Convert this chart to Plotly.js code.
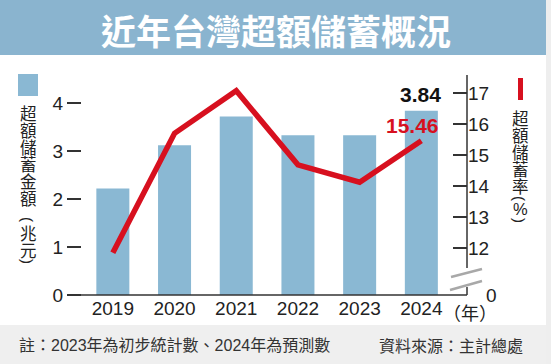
<!DOCTYPE html>
<html>
<head>
<meta charset="utf-8">
<script src="https://cdn.plot.ly/plotly-3.0.1.min.js"></script>
<style>html,body{margin:0;padding:0;background:#fff;}#chart{width:551px;height:364px;}</style>
</head>
<body>
<div id="chart"></div>
<script>
// ---- data ----
const years = ['2019', '2020', '2021', '2022', '2023', '2024'];
const savings = [2.22, 3.12, 3.72, 3.33, 3.33, 3.84];        // 超額儲蓄金額（兆元）
const rate = [11.84, 15.70, 17.07, 14.68, 14.12, 15.46];      // 超額儲蓄率（%）
const leftTicks = [0, 1, 2, 3, 4];
const rightTicks = [12, 13, 14, 15, 16, 17];
const titleText = '近年台灣超額儲蓄概況';
const leftLegendChars = ['超', '額', '儲', '蓄', '金', '額', '(', '兆', '元', ')'];
const rightLegendChars = ['超', '額', '儲', '蓄', '率', '(', '%', ')'];
const yearUnit = '（年）';
const noteText = '註：2023年為初步統計數、2024年為預測數';
const sourceText = '資料來源：主計總處';

// ---- layout geometry ----
const W = 551, H = 364;
const L = 82, R = 467, T = 75, B = 295;
const px = x => (x - L) / (R - L);
const py = y => (B - y) / (B - T);

const BAR = '#8ab8d3';
const RED = '#d7101f';
const INK = '#222222';
const NUMFONT = 'Liberation Sans, Arial, Noto Sans CJK TC, sans-serif';
const CJK = 'Noto Sans CJK TC, Noto Sans CJK SC, sans-serif';

const traces = [
  {
    type: 'bar', x: years, y: savings, width: 0.535,
    marker: {color: BAR}, hoverinfo: 'skip'
  },
  {
    type: 'scatter', mode: 'lines', x: years, y: rate, yaxis: 'y2',
    line: {color: RED, width: 5.5, shape: 'linear'}, hoverinfo: 'skip'
  }
];

const shapes = [
  {type: 'rect', xref: 'paper', yref: 'paper', x0: px(0), x1: px(546), y0: py(0), y1: py(55), fillcolor: '#8ab4cf', line: {width: 0}, layer: 'below'},
  {type: 'rect', xref: 'paper', yref: 'paper', x0: px(0), x1: px(551), y0: py(325), y1: py(364), fillcolor: '#efefef', line: {width: 0}, layer: 'below'},
  {type: 'rect', xref: 'paper', yref: 'paper', x0: px(546), x1: px(551), y0: py(0), y1: py(364), fillcolor: '#eeeeee', line: {width: 0}, layer: 'below'},
  {type: 'line', xref: 'paper', yref: 'paper', x0: px(68), x1: px(467), y0: 0, y1: 0, line: {color: '#333', width: 1.5}},
  {type: 'line', xref: 'paper', yref: 'paper', x0: 1, x1: 1, y0: py(268), y1: py(75), line: {color: '#333', width: 1.5}},
  {type: 'line', xref: 'paper', yref: 'paper', x0: 1, x1: 1, y0: 0, y1: py(287), line: {color: '#333', width: 1.5}},
  {type: 'line', xref: 'paper', yref: 'paper', x0: px(451), x1: px(482), y0: py(277), y1: py(269), line: {color: '#a8a8a8', width: 2.5}},
  {type: 'line', xref: 'paper', yref: 'paper', x0: px(450), x1: px(482), y0: py(290), y1: py(281), line: {color: '#a8a8a8', width: 2.5}},
  {type: 'rect', xref: 'paper', yref: 'paper', x0: px(18), x1: px(38), y0: py(96), y1: py(74), fillcolor: BAR, line: {width: 0}},
  {type: 'rect', xref: 'paper', yref: 'paper', x0: px(518), x1: px(523), y0: py(100), y1: py(78), fillcolor: RED, line: {width: 0}}
];

const annotations = [];
function txt(t, x, y, size, color, family, extra) {
  annotations.push(Object.assign({
    text: t, xref: 'paper', yref: 'paper', x: px(x), y: py(y),
    xanchor: 'center', yanchor: 'middle', showarrow: false,
    font: {size: size, color: color, family: family}
  }, extra || {}));
}
txt('<b>' + titleText + '</b>', 276, 29, 35, '#ffffff', CJK);

function vchar(c, x, y) {
  const paren = (c === '(' || c === ')');
  if (paren) txt(c, x, y, 15, INK, 'Liberation Sans, Arial, sans-serif', {textangle: 90});
  else txt(c, x, y, 16.5, INK, c === '%' ? NUMFONT : CJK);
}
const leftY = [113, 130, 147, 164, 181, 198, 219, 233, 250, 261];
leftLegendChars.forEach((c, i) => vchar(c, 28, leftY[i]));
const rightY = [118, 135, 152, 169, 186, 198, 209, 220];
rightLegendChars.forEach((c, i) => vchar(c, 520, rightY[i]));

txt(yearUnit, 470, 312, 18, INK, CJK);
txt('0', 492, 295, 19, INK, NUMFONT);
txt(noteText, 17, 345, 16, '#333', NUMFONT, {xanchor: 'left'});
txt(sourceText, 525, 345, 16, '#333', CJK, {xanchor: 'right'});

const last = years.length - 1;
annotations.push({
  text: '<b>' + savings[last].toFixed(2) + '</b>', x: last, y: savings[last], xref: 'x', yref: 'y',
  xanchor: 'center', yanchor: 'bottom', yshift: 3, xshift: -1, showarrow: false,
  font: {size: 21, color: '#111', family: NUMFONT}
});
annotations.push({
  text: '<b>' + rate[last].toFixed(2) + '</b>', x: last, y: rate[last], xref: 'x', yref: 'y2',
  xanchor: 'center', yanchor: 'bottom', yshift: 2, xshift: -9, showarrow: false,
  font: {size: 21, color: RED, family: NUMFONT}
});

const layout = {
  width: W, height: H,
  margin: {l: L, r: W - R, t: T, b: H - B, pad: 0},
  paper_bgcolor: '#ffffff', plot_bgcolor: 'rgba(0,0,0,0)',
  showlegend: false,
  xaxis: {
    type: 'category', range: [-0.5, 5.74], showgrid: false, zeroline: false, showline: false,
    ticks: '', tickfont: {size: 19, color: INK, family: NUMFONT}, fixedrange: true
  },
  yaxis: {
    range: [0, 4.583], tickvals: leftTicks, showgrid: false, zeroline: false, showline: false,
    ticks: 'outside', ticklen: 14, tickwidth: 1.5, tickcolor: '#333',
    tickfont: {size: 19, color: INK, family: NUMFONT}, fixedrange: true
  },
  yaxis2: {
    overlaying: 'y', side: 'right', range: [10.48, 17.58], tickvals: rightTicks,
    showgrid: false, zeroline: false, showline: false,
    ticks: 'inside', ticklen: 14, tickwidth: 1.5, tickcolor: '#333',
    tickfont: {size: 19, color: INK, family: NUMFONT}, fixedrange: true
  },
  shapes: shapes,
  annotations: annotations
};

Plotly.newPlot('chart', traces, layout, {displayModeBar: false, staticPlot: true});
</script>
</body>
</html>
